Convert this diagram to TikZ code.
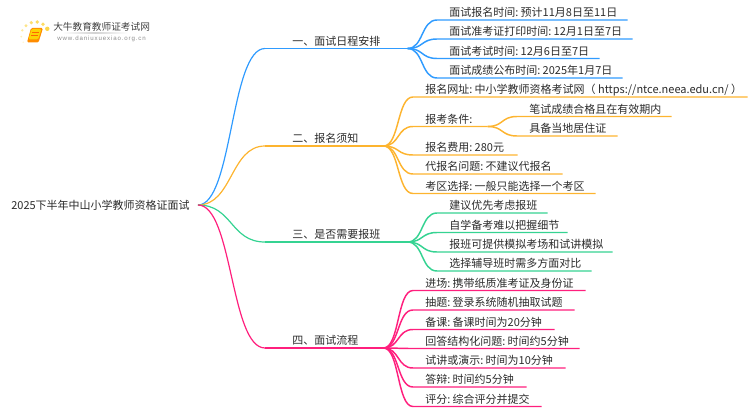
\documentclass[tikz,border=0pt]{standalone}
\usepackage{fontspec}
\setmainfont{Noto Sans CJK SC}
\newfontfamily\urlfont[LetterSpace=14]{Liberation Sans}
\definecolor{lineone}{HTML}{2F9BFF}
\definecolor{linetwo}{HTML}{FDB42F}
\definecolor{linethree}{HTML}{35D392}
\definecolor{linefour}{HTML}{FF1F7D}
\definecolor{inktext}{HTML}{2B2B2B}

\tikzstyle{rootname}=[anchor=east, inner sep=0, inner xsep=6pt, text=inktext, text height=8pt, text depth=1.5pt,
                      font=\fontsize{8.25}{10}\selectfont]
\tikzstyle{limb}=[anchor=south west, inner sep=0, text=inktext, text height=8pt, text depth=2.2pt,
                  font=\fontsize{8.25}{10}\selectfont]
\tikzstyle{branch}=[limb, text width=#1*0.75pt, execute at begin node={\hspace*{20.25pt}}]
\tikzstyle{leaf}=[limb, text width=#1*0.75pt, execute at begin node={\frenchspacing\setlength{\spaceskip}{1.8pt}\hspace*{9pt}}]
\tikzstyle{wire}=[line width=1.1pt, out=0, in=180, out distance=12pt, in distance=12pt]
\tikzstyle{trunk}=[line width=0.9pt, out=0, in=180, out distance=26pt, in distance=26pt]

\begin{document}
\begin{tikzpicture}[x=0.75pt, y=-0.75pt]
  \useasboundingbox (0, 0) rectangle (750, 410);

  \node (Root) at (198, 205) [rootname] {2025下半年中山小学教师资格证面试};

  \node (One) at (265, 48.5) [branch=142] {一、面试日程安排};
  \node (Two) at (265, 146) [branch=118] {二、报名须知};
  \node (Three) at (265, 242) [branch=142] {三、是否需要报班};
  \node (Four) at (265, 348) [branch=118] {四、面试流程};

  \draw [trunk, lineone] (Root.east) to (One.south west);
  \draw [trunk, linetwo] (Root.east) to (Two.south west);
  \draw [trunk, linethree] (Root.east) to (Three.south west);
  \draw [trunk, linefour] (Root.east) to (Four.south west);
  \draw [line width=1.1pt, lineone] (One.south west) -- (One.south east);
  \draw [line width=1.1pt, linetwo] (Two.south west) -- (Two.south east);
  \draw [line width=1.3pt, linethree] (Three.south west) -- (Three.south east);
  \draw [line width=1.1pt, linefour] (Four.south west) -- (Four.south east);

  %%%%%%%%%%%%%%%%%%%%%%%%%%%%%%
  % first branch
  \node (OneA) at (437, 20) [leaf=190] {面试报名时间: 预计11月8日至11日};
  \node (OneB) at (437, 39) [leaf=195] {面试准考证打印时间: 12月1日至7日};
  \node (OneC) at (437, 58.5) [leaf=162] {面试考试时间: 12月6日至7日};
  \node (OneD) at (437, 78) [leaf=185] {面试成绩公布时间: 2025年1月7日};
  \draw [wire, lineone] (One.south east) to (OneA.south west) -- (OneA.south east);
  \draw [wire, lineone] (One.south east) to (OneB.south west) -- (OneB.south east);
  \draw [wire, lineone] (One.south east) to (OneC.south west) -- (OneC.south east);
  \draw [wire, lineone] (One.south east) to (OneD.south west) -- (OneD.south east);

  %%%%%%%%%%%%%%%%%%%%%%%%%%%%%%
  % second branch
  \node (TwoA) at (413, 97) [leaf=334] {报名网址: 中小学教师资格考试网（ https://ntce.neea.edu.cn/ ）};
  \node (TwoB) at (413, 126.5) [leaf=74] {报考条件:};
  \node (TwoC) at (413, 155) [leaf=104] {报名费用: 280元};
  \node (TwoD) at (413, 174) [leaf=149] {代报名问题: 不建议代报名};
  \node (TwoE) at (413, 193.5) [leaf=182] {考区选择: 一般只能选择一个考区};
  \draw [wire, linetwo] (Two.south east) to (TwoA.south west) -- (TwoA.south east);
  \draw [wire, linetwo] (Two.south east) to (TwoB.south west) -- (TwoB.south east);
  \draw [wire, linetwo] (Two.south east) to (TwoC.south west) -- (TwoC.south east);
  \draw [wire, linetwo] (Two.south east) to (TwoD.south west) -- (TwoD.south east);
  \draw [wire, linetwo] (Two.south east) to (TwoE.south west) -- (TwoE.south east);

  \node (TwoBA) at (517, 116.5) [leaf=154] {笔试成绩合格且在有效期内};
  \node (TwoBB) at (517, 136) [leaf=100] {具备当地居住证};
  \draw [wire, linetwo] (TwoB.south east) to (TwoBA.south west) -- (TwoBA.south east);
  \draw [wire, linetwo] (TwoB.south east) to (TwoBB.south west) -- (TwoBB.south east);

  %%%%%%%%%%%%%%%%%%%%%%%%%%%%%%
  % third branch
  \node (ThreeA) at (437, 213) [leaf=110] {建议优先考虑报班};
  \node (ThreeB) at (437, 232.5) [leaf=130] {自学备考难以把握细节};
  \node (ThreeC) at (437, 252) [leaf=175] {报班可提供模拟考场和试讲模拟};
  \node (ThreeD) at (437, 271) [leaf=154] {选择辅导班时需多方面对比};
  \draw [wire, linethree] (Three.south east) to (ThreeA.south west) -- (ThreeA.south east);
  \draw [wire, linethree] (Three.south east) to (ThreeB.south west) -- (ThreeB.south east);
  \draw [wire, linethree] (Three.south east) to (ThreeC.south west) -- (ThreeC.south east);
  \draw [wire, linethree] (Three.south east) to (ThreeD.south west) -- (ThreeD.south east);

  %%%%%%%%%%%%%%%%%%%%%%%%%%%%%%
  % fourth branch
  \node (FourA) at (413, 290.5) [leaf=172] {进场: 携带纸质准考证及身份证};
  \node (FourB) at (413, 310) [leaf=161] {抽题: 登录系统随机抽取试题};
  \node (FourC) at (413, 329.5) [leaf=141] {备课: 备课时间为20分钟};
  \node (FourD) at (413, 348.5) [leaf=166] {回答结构化问题: 时间约5分钟};
  \node (FourE) at (413, 368) [leaf=152] {试讲或演示: 时间为10分钟};
  \node (FourF) at (413, 387) [leaf=113] {答辩: 时间约5分钟};
  \node (FourG) at (413, 406.5) [leaf=128] {评分: 综合评分并提交};
  \draw [wire, linefour] (Four.south east) to (FourA.south west) -- (FourA.south east);
  \draw [wire, linefour] (Four.south east) to (FourB.south west) -- (FourB.south east);
  \draw [wire, linefour] (Four.south east) to (FourC.south west) -- (FourC.south east);
  \draw [wire, linefour] (Four.south east) to (FourD.south west) -- (FourD.south east);
  \draw [wire, linefour] (Four.south east) to (FourE.south west) -- (FourE.south east);
  \draw [wire, linefour] (Four.south east) to (FourF.south west) -- (FourF.south east);
  \draw [wire, linefour] (Four.south east) to (FourG.south west) -- (FourG.south east);

  %%%%%%%%%%%%%%%%%%%%%%%%%%%%%%
  % logo
  \fill [yellow!60!orange!70] (47.3, 28.8) circle (2.2);
  \fill [yellow!60!orange!60] (43, 24.2) circle (1.9);
  \fill [yellow!60!orange!60] (37.3, 22) circle (1.9);
  \fill [yellow!60!orange!55] (31.3, 22.7) circle (1.8);
  \fill [yellow!60!orange!45] (26, 25.7) circle (1.6);
  \fill [yellow!60!orange!35] (22.3, 30.3) circle (1.3);
  \fill [yellow!60!orange!25] (21.3, 36.7) circle (1);
  \fill [yellow!60!orange!15] (23.3, 42.3) circle (0.9);
  \fill [orange!90!yellow, rounded corners=1] (31, 28) -- (43, 28) -- (38.5, 42.5) -- (27, 42.5) -- cycle;
  \fill [yellow!70!orange, rounded corners=1] (31.5, 29) -- (41.5, 29) -- (38, 39.5) -- (28.5, 39.5) -- cycle;
  \draw [orange!80!red, line width=0.4pt] (32, 32) -- (39, 32);
  \draw [orange!80!red, line width=0.4pt] (31, 35) -- (38, 35);
  \shade [left color=white, right color=white, middle color=gray!35] (62, 32.6) rectangle (128, 33.8);
  \node (LogoName) at (53, 27) [anchor=west, inner sep=0, text=black!75, font=\fontsize{7.25}{9}\selectfont] {大牛教育教师证考试网};
  \node (LogoSite) at (57, 39) [anchor=west, inner sep=0, text=black!45, font=\urlfont\fontsize{4.6}{6}\selectfont] {www.daniuxuexiao.org.cn};

\end{tikzpicture}
\end{document}
